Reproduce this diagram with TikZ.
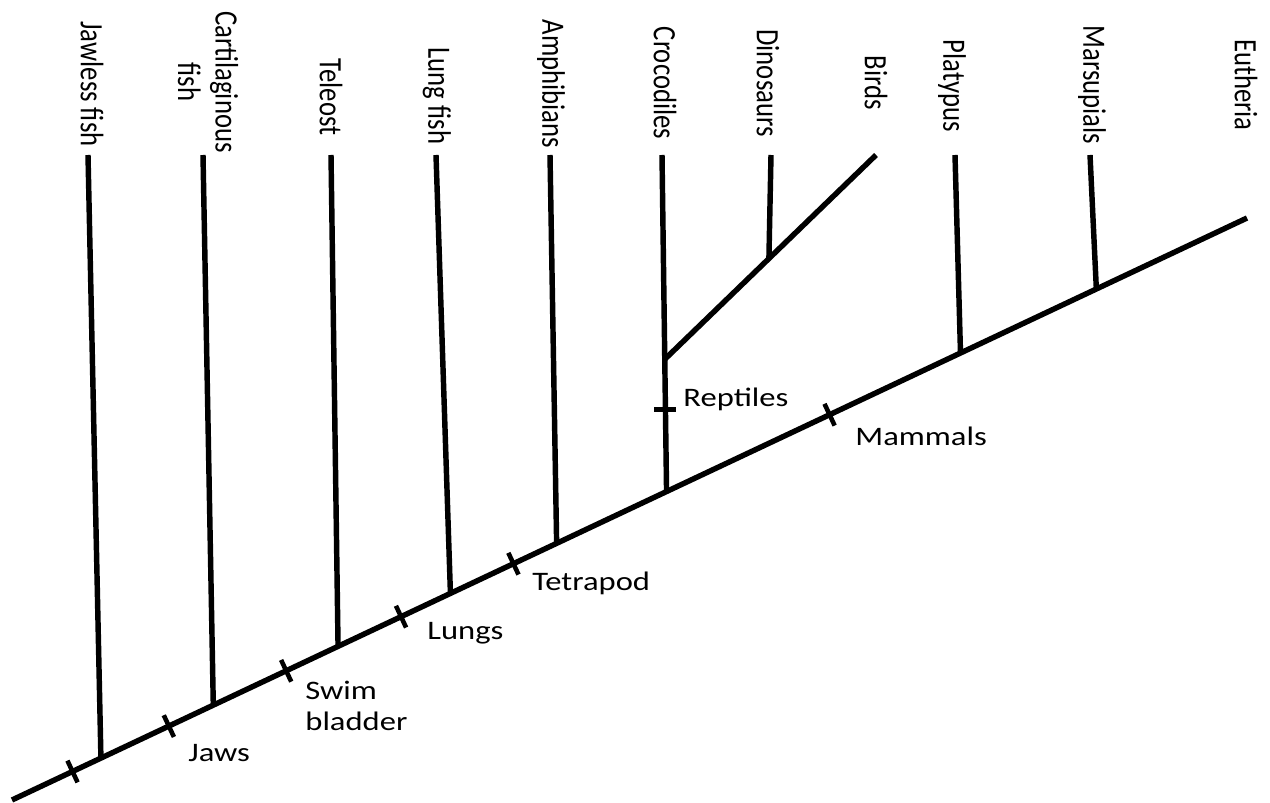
\documentclass[tikz,border=0pt]{standalone}
\usepackage{fontspec}
\setmainfont{Carlito}
\usetikzlibrary{calc}

\begin{document}
\begin{tikzpicture}[x=0.02cm, y=-0.02cm,
    branch/.style={line width=3.1pt},
    trait/.style={line width=2.6pt},
    taxon/.style={xscale=1.22, rotate=-90, inner sep=0pt, align=center,
                  font=\fontsize{15.2}{17.5}\selectfont},
    synapo/.style={xscale=1.22, anchor=west, inner sep=0pt, align=left,
                   font=\fontsize{15.2}{17.5}\selectfont}
  ]
    \useasboundingbox (0,0) rectangle (1270,803);

    \coordinate (root) at (12,800);
    \coordinate (eutheria end) at (1247,218);

    \node[taxon] (jawless) at (92,84) {Jawless fish};
    \node[taxon] (cartil) at (208,82) {Cartilaginous\\fish};
    \node[taxon] (teleost) at (331,97) {Teleost};
    \node[taxon] (lungfish) at (437,96) {Lung fish};
    \node[taxon] (amphib) at (551,84) {Amphibians};
    \node[taxon] (croc) at (665,83) {Crocodiles};
    \node[taxon] (dino) at (768,83) {Dinosaurs};
    \node[taxon] (birds) at (876,83) {Birds};
    \node[taxon] (platypus) at (952,86) {Platypus};
    \node[taxon] (marsup) at (1092,85) {Marsupials};
    \node[taxon] (eutheria) at (1246,85) {Eutheria};

    \coordinate (jawless top) at (88,155);
    \coordinate (cartil top) at (203,155);
    \coordinate (teleost top) at (331,155);
    \coordinate (lungfish top) at (436,155);
    \coordinate (amphib top) at (550,155);
    \coordinate (croc top) at (662,155);
    \coordinate (dino top) at (771,155);
    \coordinate (birds top) at (876,155);
    \coordinate (platypus top) at (955,155);
    \coordinate (marsup top) at (1090,155);

    \coordinate (jawless base) at ($(root)!0.072!(eutheria end)$);
    \coordinate (cartil base) at ($(root)!0.163!(eutheria end)$);
    \coordinate (teleost base) at ($(root)!0.264!(eutheria end)$);
    \coordinate (lungfish base) at ($(root)!0.355!(eutheria end)$);
    \coordinate (amphib base) at ($(root)!0.441!(eutheria end)$);
    \coordinate (croc base) at ($(root)!0.530!(eutheria end)$);
    \coordinate (platypus base) at ($(root)!0.768!(eutheria end)$);
    \coordinate (marsup base) at ($(root)!0.878!(eutheria end)$);

    \coordinate (reptile fork) at ($(croc top)!0.607!(croc base)$);
    \coordinate (dino base) at ($(reptile fork)!0.493!(birds top)$);

    \draw[branch] (root) -- (eutheria end);
    \draw[branch] (jawless top) -- (jawless base);
    \draw[branch] (cartil top) -- (cartil base);
    \draw[branch] (teleost top) -- (teleost base);
    \draw[branch] (lungfish top) -- (lungfish base);
    \draw[branch] (amphib top) -- (amphib base);
    \draw[branch] (croc top) -- (croc base);
    \draw[branch] (reptile fork) -- (birds top);
    \draw[branch] (dino top) -- (dino base);
    \draw[branch] (platypus top) -- (platypus base);
    \draw[branch] (marsup top) -- (marsup base);

    \coordinate (vert) at ($(root)!0.049!(eutheria end)$);
    \coordinate (jaws) at ($(root)!0.127!(eutheria end)$);
    \coordinate (swim) at ($(root)!0.222!(eutheria end)$);
    \coordinate (lungs) at ($(root)!0.315!(eutheria end)$);
    \coordinate (tetra) at ($(root)!0.406!(eutheria end)$);
    \coordinate (mammal) at ($(root)!0.662!(eutheria end)$);
    \coordinate (reptile) at ($(croc top)!0.757!(croc base)$);

    \draw[trait] ($(vert)+(115:0.24cm)$) -- ($(vert)+(-65:0.24cm)$);
    \draw[trait] ($(jaws)+(115:0.24cm)$) -- ($(jaws)+(-65:0.24cm)$);
    \draw[trait] ($(swim)+(115:0.24cm)$) -- ($(swim)+(-65:0.24cm)$);
    \draw[trait] ($(lungs)+(115:0.24cm)$) -- ($(lungs)+(-65:0.24cm)$);
    \draw[trait] ($(tetra)+(115:0.24cm)$) -- ($(tetra)+(-65:0.24cm)$);
    \draw[trait] ($(mammal)+(115:0.24cm)$) -- ($(mammal)+(-65:0.24cm)$);
    \draw[trait] ($(reptile)+(-0.22cm,0)$) -- ($(reptile)+(0.22cm,0)$);

    \node[synapo] (jawslab) at (188,753) {Jaws};
    \node[synapo] (swimlab) at (305,706) {Swim\\bladder};
    \node[synapo] (lungslab) at (427,633) {Lungs};
    \node[synapo] (tetralab) at (532,583) {Tetrapod};
    \node[synapo] (reptilelab) at (683,399) {Reptiles};
    \node[synapo] (mammallab) at (855,436) {Mammals};
  \end{tikzpicture}
\end{document}
